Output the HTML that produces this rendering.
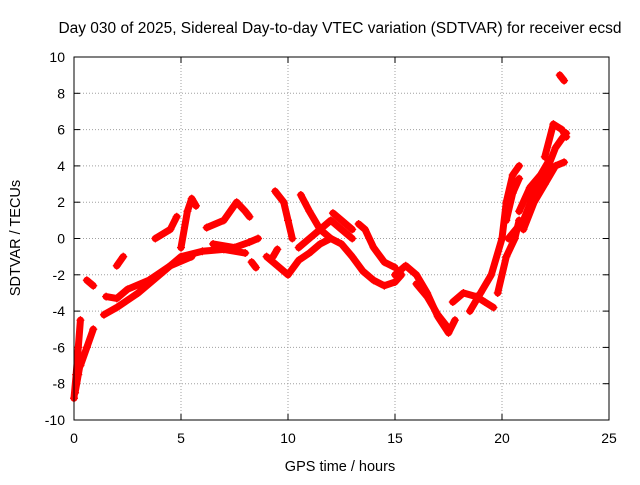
<!DOCTYPE html>
<html><head><meta charset="utf-8"><style>
body{margin:0;background:#fff;}
svg{font-family:"Liberation Sans",sans-serif;}
</style></head><body>
<svg width="640" height="480" viewBox="0 0 640 480">
<text x="340" y="33" font-size="15.5" text-anchor="middle">Day 030 of 2025, Sidereal Day-to-day VTEC variation (SDTVAR) for receiver ecsd</text>
<g id="grid"></g>
<g id="axes"></g>
<g id="series"></g>
<rect x="74" y="57" width="535" height="363" fill="none" stroke="#000" stroke-width="1"/>
<text x="340" y="471" font-size="14.5" text-anchor="middle">GPS time / hours</text>
<text x="20" y="238" font-size="14.5" text-anchor="middle" transform="rotate(-90 20 238)">SDTVAR / TECUs</text>
</svg>
<script>
const xTicks=[0,5,10,15,20,25];
const yTicks=[-10,-8,-6,-4,-2,0,2,4,6,8,10];
const segments=[
[[0,-8.8],[0.1,-7.5],[0.2,-6],[0.3,-4.5]],
[[0.05,-8.5],[0.2,-7.5],[0.35,-6.5]],
[[0.3,-7],[0.6,-6],[0.9,-5]],
[[0.6,-2.3],[0.9,-2.6]],
[[1.4,-4.2],[2,-3.8],[3,-3],[4,-2],[5,-1],[6,-0.7],[7,-0.6],[8,-0.8]],
[[1.5,-3.2],[2,-3.3],[2.5,-2.8],[3.5,-2.3],[4.5,-1.5],[5.5,-1]],
[[2.0,-1.5],[2.3,-1]],
[[3.8,0],[4.5,0.5],[4.8,1.2]],
[[5.0,-0.5],[5.3,1.5],[5.5,2.2],[5.7,1.8]],
[[6.2,0.6],[7,1],[7.6,2],[8,1.5],[8.2,1.2]],
[[6.5,-0.3],[7.5,-0.5],[8.2,-0.2],[8.6,0]],
[[8.3,-1.3],[8.5,-1.6]],
[[9.3,-1],[9.5,-0.6]],
[[9.4,2.6],[9.8,2],[10,1],[10.2,0]],
[[9,-1],[9.5,-1.5],[10,-2],[10.5,-1.2],[11,-0.8],[11.5,-0.3],[12,0],[12.5,-0.3],[13,-1],[13.5,-1.8],[14,-2.3],[14.5,-2.6],[15,-2.4],[15.3,-2]],
[[10.6,2.4],[11,1.5],[11.5,0.5],[12,0]],
[[10.5,-0.5],[11,0],[11.5,0.5],[12,1],[12.5,0.5],[13,0]],
[[12.1,1.4],[12.5,1],[13,0.5]],
[[13.3,0.8],[13.6,0.5],[14,-0.5],[14.5,-1.3],[15,-1.6]],
[[15,-2],[15.5,-1.5],[16,-2],[16.5,-3],[17,-4.3],[17.5,-5.2],[17.8,-4.5]],
[[16,-2.5],[16.5,-3.2],[17,-4.2],[17.4,-4.8]],
[[17.7,-3.5],[18.2,-3],[18.8,-3.2],[19.2,-3.5],[19.6,-3.8]],
[[18.5,-4],[19,-3],[19.5,-2],[20,0],[20.2,2],[20.5,3.5],[20.8,4]],
[[19.8,-3],[20.2,-1],[20.6,0],[20.8,1]],
[[20.2,1],[20.5,2.5],[20.8,3.3]],
[[20.3,0],[21,1],[21.5,2.5],[22,3.5],[22.5,5],[22.8,5.5],[23,5.8]],
[[21,0.5],[21.5,2],[22,3],[22.5,4],[22.9,4.2]],
[[20.8,1.5],[21.3,2.8],[21.8,3.5],[22.2,4.3]],
[[22,4.5],[22.4,6.3],[22.8,6],[23,5.6]],
[[22.7,9],[22.9,8.7]]
];
const NS='http://www.w3.org/2000/svg';
const X0=74,X1=609,Y0=420,Y1=57;
function xs(v){return X0+(v-0)/(25-0)*(X1-X0);}
function ys(v){return Y0-(v+10)/20*(Y0-Y1);}
function mk(tag,attrs,parent){const e=document.createElementNS(NS,tag);for(const k in attrs)e.setAttribute(k,attrs[k]);parent.appendChild(e);return e;}
const grid=document.getElementById('grid'),axes=document.getElementById('axes'),ser=document.getElementById('series');
xTicks.forEach(t=>{const x=xs(t);
 if(t>0&&t<25){const l=mk('line',{x1:x,x2:x,y1:Y0,y2:Y1,stroke:'#a0a0a0','stroke-dasharray':'1,2'},grid);
 
 }
 mk('line',{x1:x,x2:x,y1:Y0,y2:Y0-6,stroke:'#000'},axes);
 mk('line',{x1:x,x2:x,y1:Y1,y2:Y1+6,stroke:'#000'},axes);
 const tx=mk('text',{x:x,y:Y0+23,'font-size':14,'text-anchor':'middle'},axes);tx.textContent=t;
 
 
});
yTicks.forEach(t=>{const y=ys(t);
 if(t>-10&&t<10){const l=mk('line',{x1:X0,x2:X1,y1:y,y2:y,stroke:'#a0a0a0','stroke-dasharray':'1,2'},grid);
 
 }
 mk('line',{x1:X0,x2:X0+6,y1:y,y2:y,stroke:'#000'},axes);
 mk('line',{x1:X1,x2:X1-6,y1:y,y2:y,stroke:'#000'},axes);
 const tx=mk('text',{x:X0-9,y:y+5,'font-size':14,'text-anchor':'end'},axes);tx.textContent=t;
 
 
});
segments.forEach(seg=>{
 const pts=seg.map(p=>xs(p[0])+','+ys(p[1])).join(' ');
 const pl=mk('polyline',{points:pts,fill:'none',stroke:'#ff0000','stroke-width':7,'stroke-linejoin':'round','stroke-linecap':'round'},ser);
 
 
 seg.forEach(p=>{const x=xs(p[0]),y=ys(p[1]);
  const m=mk('path',{d:`M${x-4},${y}H${x+4}M${x},${y-4}V${y+4}`,stroke:'#ff0000','stroke-width':1.2},ser);
  
  
 });
});
</script>
</body></html>
